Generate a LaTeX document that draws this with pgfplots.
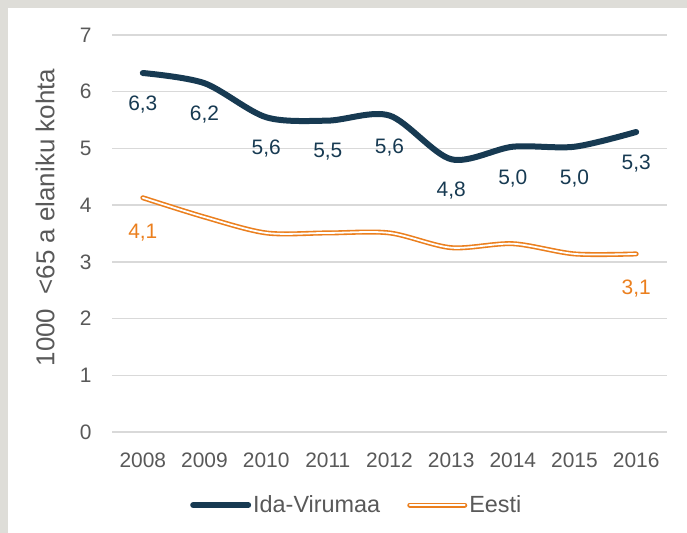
\documentclass[border=0pt]{standalone}
\usepackage{pgfplots}
\pgfplotsset{compat=1.18}
\usepackage{pgfplotstable}
\usepackage{fontspec}
\setmainfont{Liberation Sans}
\definecolor{navy}{HTML}{173A52}
\definecolor{orng}{HTML}{EB7F1E}
\definecolor{txt}{HTML}{595959}
\definecolor{gridc}{HTML}{D9D9D9}
\definecolor{framec}{HTML}{DEDDD8}

\pgfplotstableread{
x y lab
0 6.33 {6,3}
1 6.15 {6,2}
2 5.55 {5,6}
3 5.49 {5,5}
4 5.58 {5,6}
5 4.81 {4,8}
6 5.03 {5,0}
7 5.03 {5,0}
8 5.29 {5,3}
}\idatable

\pgfplotstableread{
x y lab
0 4.13 {4,1}
1 3.79 {}
2 3.51 {}
3 3.51 {}
4 3.51 {}
5 3.25 {}
6 3.32 {}
7 3.14 {}
8 3.14 {3,1}
}\eestitable

\begin{document}
\begin{tikzpicture}
\fill[framec] (0bp,0bp) rectangle (687bp,533bp);
\fill[white] (8bp,0bp) rectangle (687bp,525bp);
\useasboundingbox (0bp,0bp) rectangle (687bp,533bp);
\begin{axis}[
  at={(112bp,101bp)}, anchor=south west,
  scale only axis, width=555bp, height=397bp,
  xmin=-0.5, xmax=8.5, ymin=0, ymax=7,
  ytick={0,1,2,3,4,5,6,7},
  xtick={0,1,2,3,4,5,6,7,8},
  xticklabels={2008,2009,2010,2011,2012,2013,2014,2015,2016},
  axis line style={draw=none},
  ymajorgrids, grid style={gridc, line width=1.5bp},
  major tick length=0pt,
  /pgf/number format/assume math mode=true,
  tick label style={font=\fontsize{21}{25}\selectfont, text=txt},
  yticklabel style={xshift=-17bp},
  xticklabel style={yshift=-17bp},
  ylabel={1000\ \ <65 a elaniku kohta},
  every axis y label/.style={at={(rel axis cs:0,0.540)}, rotate=90, anchor=center,
    yshift=67bp, font=\fontsize{26}{30}\selectfont, text=txt},
  legend style={at={(0.441,-0.184)}, anchor=center, draw=none, fill=none,
    legend columns=2, font=\fontsize{23.5}{28}\selectfont, text=txt,
    /tikz/every even column/.append style={column sep=25bp}},
  legend image code/.code={\draw[#1] (0bp,0bp) -- (55bp,0bp);},
  legend cell align=left,
  nodes near coords,
  point meta=explicit symbolic,
  every node near coord/.append style={anchor=center, font=\fontsize{21}{25}\selectfont},
]
\addplot[navy, line width=6bp, smooth, tension=0.5, line cap=round,
  every node near coord/.append style={text=navy, yshift=-31.5bp}]
  table[x=x, y=y, meta=lab] {\idatable};
\addlegendentry{Ida-Virumaa}
\addplot[orng, line width=1.6bp, double=white, double distance=1.8bp, smooth, tension=0.5, line cap=round,
  every node near coord/.append style={text=orng, yshift=-34.5bp}]
  table[x=x, y=y, meta=lab] {\eestitable};
\addlegendentry{Eesti}
\end{axis}
\end{tikzpicture}
\end{document}
